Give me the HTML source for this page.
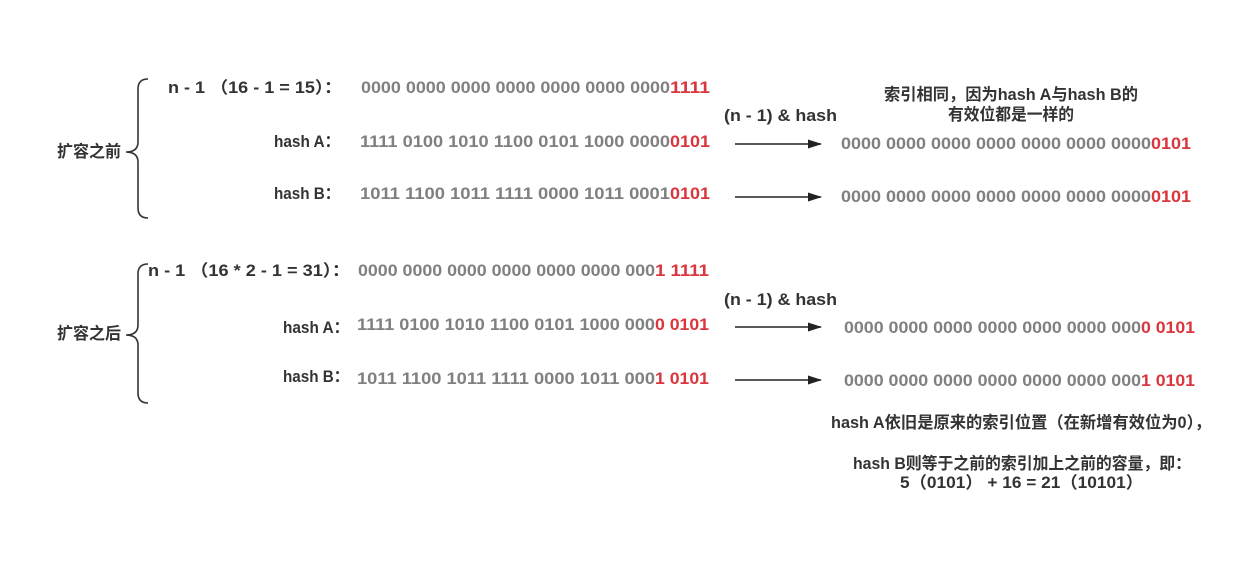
<!DOCTYPE html>
<html><head><meta charset="utf-8"><style>
html,body{margin:0;padding:0;background:#fff;width:1260px;height:566px;overflow:hidden}
svg text{font-family:"Liberation Sans","Noto Sans CJK SC",sans-serif;font-weight:bold;font-size:16.5px}
.k{fill:#333}.g{fill:#808080}.r{fill:#d9363e}
</style></head><body>
<svg width="1260" height="566" viewBox="0 0 1260 566" xmlns="http://www.w3.org/2000/svg">
<defs><marker id="a" markerWidth="14" markerHeight="10" refX="13" refY="5" orient="auto" markerUnits="userSpaceOnUse"><path d="M0,0.5 L14,5 L0,9.5 Z" fill="#222"/></marker></defs>
<g fill="none" stroke="#333" stroke-width="1.6">
<path d="M148,79 Q138,79 138,89 L138,142 Q138,152 126,152 Q138,152 138,162 L138,208 Q138,218 148,218"/>
<path d="M148,264 Q138,264 138,274 L138,325 Q138,335 126,335 Q138,335 138,345 L138,393 Q138,403 148,403"/>
</g>
<g stroke="#222" stroke-width="1.6" marker-end="url(#a)">
<line x1="735" y1="144" x2="821" y2="144"/><line x1="735" y1="197" x2="821" y2="197"/>
<line x1="735" y1="327" x2="821" y2="327"/><line x1="735" y1="380" x2="821" y2="380"/>
</g>
<text class="k" x="57" y="157" textLength="64" lengthAdjust="spacingAndGlyphs">扩容之前</text>
<text class="k" x="57" y="339" textLength="64" lengthAdjust="spacingAndGlyphs">扩容之后</text>

<text class="k" x="168" y="93" textLength="174" lengthAdjust="spacingAndGlyphs">n - 1 （16 - 1 = 15）：</text>
<text class="g" x="361" y="93" textLength="309" lengthAdjust="spacingAndGlyphs">0000 0000 0000 0000 0000 0000 0000</text>
<text class="r" x="670" y="93" textLength="40" lengthAdjust="spacingAndGlyphs">1111</text>
<text class="k" x="274" y="147" textLength="66" lengthAdjust="spacingAndGlyphs">hash A：</text>
<text class="g" x="360" y="147" textLength="310" lengthAdjust="spacingAndGlyphs">1111 0100 1010 1100 0101 1000 0000</text>
<text class="r" x="670" y="147" textLength="40" lengthAdjust="spacingAndGlyphs">0101</text>
<text class="k" x="274" y="199" textLength="66" lengthAdjust="spacingAndGlyphs">hash B：</text>
<text class="g" x="360" y="199" textLength="310" lengthAdjust="spacingAndGlyphs">1011 1100 1011 1111 0000 1011 0001</text>
<text class="r" x="670" y="199" textLength="40" lengthAdjust="spacingAndGlyphs">0101</text>

<text class="k" x="148" y="276" textLength="202" lengthAdjust="spacingAndGlyphs">n - 1 （16 * 2 - 1 = 31）：</text>
<text class="g" x="358" y="276" textLength="297" lengthAdjust="spacingAndGlyphs">0000 0000 0000 0000 0000 0000 000</text>
<text class="r" x="655" y="276" textLength="54" lengthAdjust="spacingAndGlyphs">1 1111</text>
<text class="k" x="283" y="333" textLength="66" lengthAdjust="spacingAndGlyphs">hash A：</text>
<text class="g" x="357" y="330" textLength="298" lengthAdjust="spacingAndGlyphs">1111 0100 1010 1100 0101 1000 000</text>
<text class="r" x="655" y="330" textLength="54" lengthAdjust="spacingAndGlyphs">0 0101</text>
<text class="k" x="283" y="382" textLength="66" lengthAdjust="spacingAndGlyphs">hash B：</text>
<text class="g" x="357" y="384" textLength="298" lengthAdjust="spacingAndGlyphs">1011 1100 1011 1111 0000 1011 000</text>
<text class="r" x="655" y="384" textLength="54" lengthAdjust="spacingAndGlyphs">1 0101</text>

<text class="k" x="724" y="121" textLength="113" lengthAdjust="spacingAndGlyphs">(n - 1) &amp; hash</text>
<text class="k" x="724" y="305" textLength="113" lengthAdjust="spacingAndGlyphs">(n - 1) &amp; hash</text>
<text class="k" x="884" y="100" textLength="254" lengthAdjust="spacingAndGlyphs">索引相同，因为hash A与hash B的</text>
<text class="k" x="948" y="120" textLength="126" lengthAdjust="spacingAndGlyphs">有效位都是一样的</text>

<text class="g" x="841" y="149" textLength="310" lengthAdjust="spacingAndGlyphs">0000 0000 0000 0000 0000 0000 0000</text>
<text class="r" x="1151" y="149" textLength="40" lengthAdjust="spacingAndGlyphs">0101</text>
<text class="g" x="841" y="202" textLength="310" lengthAdjust="spacingAndGlyphs">0000 0000 0000 0000 0000 0000 0000</text>
<text class="r" x="1151" y="202" textLength="40" lengthAdjust="spacingAndGlyphs">0101</text>
<text class="g" x="844" y="333" textLength="297" lengthAdjust="spacingAndGlyphs">0000 0000 0000 0000 0000 0000 000</text>
<text class="r" x="1141" y="333" textLength="54" lengthAdjust="spacingAndGlyphs">0 0101</text>
<text class="g" x="844" y="386" textLength="297" lengthAdjust="spacingAndGlyphs">0000 0000 0000 0000 0000 0000 000</text>
<text class="r" x="1141" y="386" textLength="54" lengthAdjust="spacingAndGlyphs">1 0101</text>

<text class="k" x="831" y="428" textLength="380" lengthAdjust="spacingAndGlyphs">hash A依旧是原来的索引位置（在新增有效位为0），</text>
<text class="k" x="853" y="469" textLength="338" lengthAdjust="spacingAndGlyphs">hash B则等于之前的索引加上之前的容量，即：</text>
<text class="k" x="900" y="488" textLength="243" lengthAdjust="spacingAndGlyphs">5（0101） + 16 = 21（10101）</text>
</svg>
</body></html>
